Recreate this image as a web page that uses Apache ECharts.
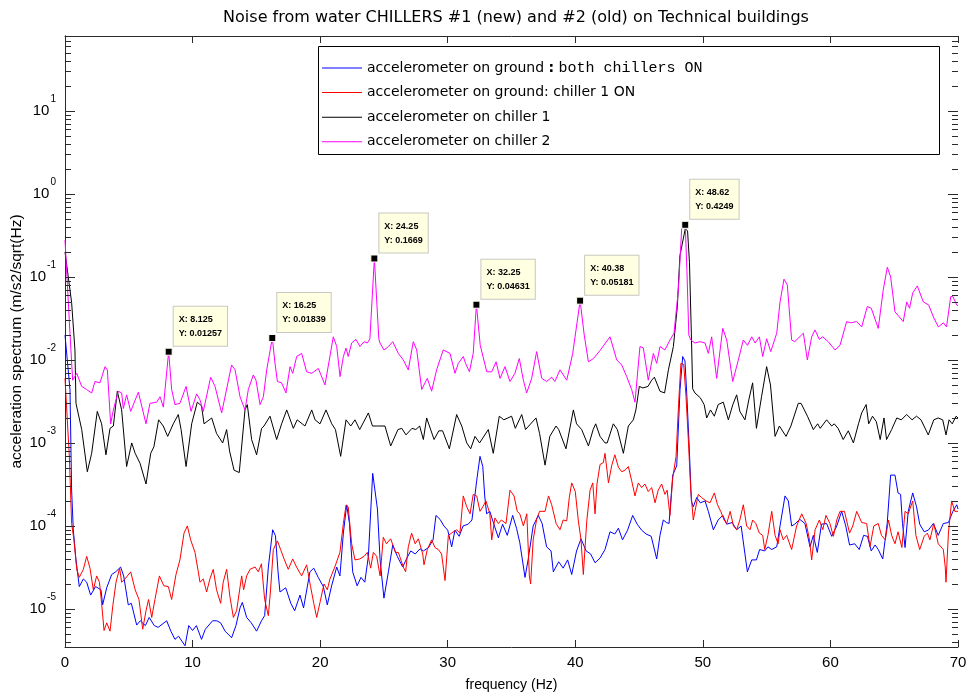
<!DOCTYPE html>
<html>
<head>
<meta charset="utf-8">
<title>Noise from water chillers</title>
<script src="https://cdn.jsdelivr.net/npm/echarts@6/dist/echarts.min.js"></script>
<style>
  html, body { margin: 0; padding: 0; background: #fff; }
  #chart { width: 968px; height: 698px; }
</style>
</head>
<body>
<div id="chart"></div>
<script>
// Acceleration spectra, [frequency (Hz), amplitude (m/s2/sqrt(Hz))]

const groundBothOn = [[0,0.02],[0.08,0.021],[0.39,0.0044],[0.52,0.00027],[0.65,0.00009],[0.86,0.000039],[1.12,0.0000186],[1.44,0.000023],[1.7,0.000021],[2.01,0.0000147],[2.4,0.0000186],[2.82,0.000017],[2.95,0.0000112],[3.27,0.000018],[3.66,0.000026],[3.97,0.000028],[4.36,0.000032],[4.6,0.000025],[4.96,0.0000112],[5.2,0.0000117],[5.62,0.0000064],[5.9,0.0000072],[6.3,0.0000063],[6.6,0.0000079],[7.0,0.0000063],[7.3,0.000006],[7.97,0.0000072],[8.3,0.0000054],[8.62,0.0000043],[8.9,0.0000047],[9.41,0.0000036],[9.7,0.0000063],[10.0,0.0000055],[10.3,0.0000063],[10.7,0.0000043],[11.0,0.0000057],[11.57,0.0000072],[11.9,0.0000072],[12.2,0.0000068],[12.55,0.0000054],[13.06,0.0000045],[13.4,0.0000063],[13.72,0.0000103],[13.9,0.000012],[14.24,0.0000079],[14.6,0.0000068],[15.02,0.0000054],[15.4,0.0000072],[15.65,0.0000083],[15.94,0.000032],[16.28,0.00009],[16.5,0.000076],[16.7,0.000028],[16.85,0.000016],[17.3,0.000018],[17.7,0.0000117],[18.0,0.0000095],[18.42,0.0000147],[18.7,0.0000103],[19.2,0.000028],[19.5,0.000031],[19.85,0.000024],[20.25,0.0000186],[20.56,0.0000112],[20.9,0.000019],[21.3,0.000032],[21.55,0.000025],[21.82,0.000082],[22.08,0.000179],[22.3,0.000107],[22.55,0.000028],[22.9,0.000019],[23.2,0.000024],[23.5,0.000021],[23.78,0.000043],[24.12,0.00043],[24.27,0.00045],[24.49,0.00016],[24.7,0.000039],[25.0,0.0000135],[25.35,0.000028],[25.69,0.000059],[26.05,0.000043],[26.47,0.000032],[26.8,0.000041],[27.1,0.00005],[27.45,0.000046],[27.83,0.000053],[28.1,0.00005],[28.5,0.000055],[28.85,0.000068],[29.08,0.000134],[29.4,0.00012],[29.7,0.0001],[30.0,0.000089],[30.31,0.000056],[30.57,0.000089],[30.9,0.000075],[31.2,0.0001],[31.6,0.000105],[31.9,0.000118],[32.27,0.00035],[32.53,0.00069],[32.75,0.00052],[32.9,0.00023],[33.05,0.00014],[33.3,0.00015],[33.6,0.000107],[33.97,0.000072],[34.3,0.000105],[34.67,0.000077],[35.09,0.000134],[35.4,0.000093],[35.65,0.000063],[36.06,0.000024],[36.3,0.000039],[36.7,0.0001],[37.1,0.000134],[37.4,0.000107],[37.75,0.000056],[38.1,0.00005],[38.28,0.000028],[38.7,0.000037],[39.05,0.000031],[39.4,0.000039],[39.72,0.000026],[40.1,0.00005],[40.45,0.00007],[40.85,0.00005],[41.2,0.000046],[41.55,0.000036],[41.94,0.000041],[42.33,0.000052],[42.72,0.000085],[43.1,0.00008],[43.38,0.000094],[43.7,0.000068],[44.1,0.000089],[44.5,0.000134],[44.85,0.000105],[45.2,0.000089],[45.55,0.00008],[45.95,0.000075],[46.38,0.00004],[46.64,0.000077],[46.9,0.000118],[47.15,0.00011],[47.35,0.000107],[47.64,0.00041],[47.95,0.00053],[48.21,0.0044],[48.42,0.011],[48.6,0.0097],[48.75,0.0036],[48.94,0.00083],[49.1,0.0002],[49.25,0.00017],[49.52,0.00022],[49.8,0.00019],[50.17,0.0002],[50.43,0.00015],[50.82,0.00009],[51.2,0.000118],[51.56,0.000134],[51.87,0.000105],[52.3,0.00011],[52.65,0.00009],[53.0,0.0001],[53.49,0.000028],[53.83,0.000039],[54.2,0.000039],[54.45,0.000052],[54.85,0.00005],[55.1,0.000056],[55.4,0.000052],[55.79,0.000056],[56.05,0.0001],[56.44,0.00023],[56.7,0.0002],[56.96,0.0001],[57.2,0.000105],[57.6,0.00012],[58.0,0.000107],[58.4,0.000056],[58.66,0.000077],[58.97,0.000048],[59.3,0.000105],[59.7,0.000107],[60.1,0.000075],[60.5,0.0001],[60.88,0.00015],[61.2,0.0001],[61.5,0.000059],[61.9,0.000061],[62.26,0.000052],[62.6,0.000077],[62.9,0.000075],[63.2,0.00005],[63.5,0.000059],[63.75,0.000052],[64.1,0.00004],[64.45,0.000107],[64.72,0.00041],[65.06,0.00041],[65.3,0.00025],[65.5,0.00024],[65.65,0.000107],[65.85,0.000055],[66.1,0.00015],[66.45,0.00025],[66.75,0.00017],[67.0,0.000105],[67.35,0.000085],[67.67,0.000089],[68.07,0.000107],[68.45,0.000077],[68.85,0.000107],[69.25,0.00011],[69.6,0.00015],[69.9,0.00018],[70,0.00016]];

const groundChiller1On = [[0,0.006],[0.08,0.0057],[0.34,0.00069],[0.52,0.000107],[0.7,0.000068],[0.92,0.00003],[1.12,0.000024],[1.44,0.00003],[1.7,0.000043],[1.96,0.000031],[2.22,0.000017],[2.48,0.000025],[2.7,0.000021],[2.87,0.0000117],[3.06,0.0000055],[3.27,0.0000068],[3.53,0.0000054],[3.75,0.000011],[4.0,0.000021],[4.28,0.000031],[4.44,0.000021],[4.7,0.000023],[5.15,0.000028],[5.5,0.000017],[5.8,0.000013],[6.09,0.0000057],[6.35,0.0000095],[6.55,0.000013],[6.8,0.0000079],[7.05,0.000013],[7.4,0.000025],[7.75,0.000019],[8.1,0.0000186],[8.36,0.000013],[8.7,0.000026],[9.01,0.000039],[9.33,0.000082],[9.59,0.0001],[9.85,0.000068],[10.19,0.000048],[10.45,0.000028],[10.58,0.000021],[10.84,0.000023],[11.1,0.000016],[11.36,0.000023],[11.62,0.00003],[11.88,0.000017],[12.2,0.0000117],[12.4,0.000021],[12.67,0.00003],[12.93,0.000014],[13.2,0.0000079],[13.45,0.0000095],[13.85,0.000025],[14.0,0.000017],[14.24,0.000025],[14.5,0.00003],[14.9,0.000032],[15.15,0.000028],[15.4,0.000035],[15.65,0.000013],[15.94,0.0000083],[16.1,0.000016],[16.33,0.000052],[16.65,0.000066],[16.9,0.000052],[17.2,0.000039],[17.5,0.00003],[17.85,0.00004],[18.15,0.000032],[18.55,0.000025],[18.94,0.000034],[19.25,0.0000186],[19.5,0.0000117],[19.73,0.0000079],[19.99,0.000012],[20.3,0.00002],[20.56,0.000017],[20.77,0.000023],[21.15,0.000032],[21.55,0.000048],[21.82,0.000107],[22.03,0.000179],[22.2,0.00017],[22.47,0.000061],[22.73,0.000039],[23.1,0.00004],[23.44,0.000043],[23.7,0.000048],[23.96,0.000031],[24.17,0.000048],[24.43,0.000043],[24.7,0.000025],[24.95,0.000073],[25.2,0.000061],[25.53,0.00007],[25.9,0.000048],[26.13,0.000048],[26.52,0.000032],[26.7,0.000028],[26.91,0.000056],[27.17,0.000082],[27.45,0.000061],[27.7,0.00007],[28.04,0.000046],[28.14,0.000034],[28.4,0.000052],[28.74,0.000068],[29.0,0.000055],[29.26,0.000052],[29.52,0.000046],[29.79,0.000022],[30.05,0.000077],[30.3,0.000082],[30.7,0.00009],[30.96,0.000082],[31.22,0.00023],[31.49,0.00017],[31.75,0.00014],[32.0,0.00024],[32.27,0.00023],[32.53,0.00015],[32.75,0.00017],[33.0,0.0002],[33.3,0.00014],[33.45,0.000068],[33.7,0.000125],[33.97,0.000107],[34.2,0.000118],[34.57,0.000107],[34.88,0.00027],[35.2,0.00023],[35.45,0.00015],[35.65,0.00014],[35.93,0.0001],[36.2,0.00014],[36.4,0.000025],[36.5,0.00002],[36.7,0.000068],[36.97,0.00012],[37.2,0.00015],[37.63,0.00015],[37.9,0.00023],[38.15,0.00018],[38.5,0.000107],[38.8,0.00009],[39.05,0.000118],[39.33,0.000115],[39.53,0.00022],[39.72,0.00033],[40.0,0.00026],[40.24,0.000115],[40.45,0.000068],[40.63,0.000026],[40.9,0.000115],[41.16,0.00027],[41.37,0.00033],[41.55,0.00014],[41.7,0.00032],[41.94,0.00055],[42.2,0.00058],[42.33,0.00075],[42.6,0.00033],[42.85,0.00053],[43.1,0.00072],[43.38,0.00051],[43.64,0.00045],[43.9,0.00047],[44.16,0.00052],[44.42,0.00035],[44.68,0.00023],[44.94,0.00033],[45.2,0.00029],[45.46,0.00032],[45.72,0.00026],[45.99,0.00029],[46.25,0.00019],[46.5,0.00027],[46.77,0.00032],[47.03,0.00024],[47.2,0.00027],[47.42,0.000134],[47.64,0.00038],[47.9,0.00069],[48.1,0.003],[48.28,0.0091],[48.5,0.0088],[48.68,0.0036],[48.86,0.0011],[49.05,0.00027],[49.25,0.000118],[49.38,0.00015],[49.64,0.00024],[49.9,0.00022],[50.25,0.0002],[50.56,0.00019],[50.9,0.00025],[51.15,0.00018],[51.4,0.00015],[51.66,0.000118],[51.87,0.000107],[52.14,0.00015],[52.4,0.0001],[52.65,0.00009],[52.9,0.000118],[53.17,0.00018],[53.43,0.0001],[53.7,0.00009],[53.9,0.000118],[54.15,0.000107],[54.43,0.000082],[54.69,0.000077],[54.85,0.000052],[55.1,0.000077],[55.4,0.00015],[55.66,0.000077],[55.9,0.000061],[56.05,0.00009],[56.3,0.000068],[56.57,0.000077],[56.96,0.000052],[57.35,0.0001],[57.75,0.00014],[58.1,0.000107],[58.36,0.000068],[58.53,0.000039],[58.8,0.00009],[59.13,0.000118],[59.4,0.00009],[59.65,0.000134],[59.96,0.000107],[60.23,0.000075],[60.5,0.000118],[60.75,0.00015],[61.1,0.00015],[61.5,0.000082],[61.75,0.0001],[62.06,0.00015],[62.45,0.00011],[62.84,0.000107],[63.1,0.000056],[63.4,0.0001],[63.75,0.000107],[64.0,0.000077],[64.3,0.000068],[64.55,0.000118],[64.8,0.000077],[65.06,0.000061],[65.3,0.000085],[65.6,0.000055],[65.85,0.00015],[66.1,0.00014],[66.45,0.0002],[66.7,0.000077],[67.0,0.000052],[67.35,0.000075],[67.6,0.000082],[67.8,0.000068],[68.1,0.000107],[68.45,0.000061],[68.85,0.000052],[69.0,0.000032],[69.06,0.000021],[69.25,0.000082],[69.5,0.0002],[69.75,0.00015],[70,0.00015]];

const onChiller1 = [[0,0.2],[0.52,0.049],[0.78,0.0132],[0.86,0.003],[1.31,0.00145],[1.75,0.00045],[2.09,0.00075],[2.53,0.0024],[2.87,0.0017],[3.21,0.00072],[3.53,0.0015],[3.79,0.0016],[4.1,0.0042],[4.44,0.0025],[4.83,0.00052],[5.23,0.001],[5.5,0.00075],[5.88,0.00057],[6.35,0.00032],[6.72,0.00075],[6.97,0.0009],[7.34,0.0019],[7.7,0.0016],[8.05,0.0012],[8.49,0.0017],[8.88,0.0022],[9.1,0.00145],[9.49,0.00052],[9.93,0.0017],[10.37,0.0031],[10.7,0.0028],[10.9,0.0017],[11.5,0.002],[11.88,0.0013],[12.36,0.001],[12.67,0.00145],[12.9,0.0008],[13.25,0.00047],[13.66,0.00044],[14.11,0.0025],[14.29,0.0029],[14.63,0.0011],[15.02,0.00072],[15.41,0.0015],[15.6,0.0016],[16.07,0.0021],[16.59,0.0011],[16.98,0.0017],[17.38,0.0025],[17.9,0.0015],[18.2,0.0019],[18.81,0.0016],[19.34,0.0025],[19.6,0.0019],[19.99,0.0017],[20.46,0.0025],[20.91,0.0017],[21.2,0.00145],[21.61,0.00069],[22.03,0.0019],[22.4,0.0016],[22.73,0.0019],[23.1,0.00145],[23.78,0.0023],[24.1,0.0016],[24.5,0.0016],[25.08,0.0016],[25.53,0.00092],[26.1,0.00145],[26.4,0.0015],[26.73,0.00125],[27.2,0.0015],[27.5,0.00145],[27.8,0.0016],[28.09,0.0011],[28.35,0.002],[28.93,0.0011],[29.3,0.0014],[29.6,0.0014],[30.13,0.00085],[30.7,0.0022],[31.1,0.0016],[31.49,0.001],[31.8,0.00085],[32.14,0.0012],[32.5,0.001],[33.18,0.00145],[33.57,0.00075],[34.04,0.0021],[34.4,0.0019],[35.01,0.0021],[35.3,0.0015],[35.8,0.0022],[36.1,0.00145],[36.92,0.002],[37.2,0.0013],[37.63,0.00054],[38.0,0.0012],[38.49,0.0016],[38.7,0.00145],[39.27,0.00085],[39.85,0.0025],[40.1,0.0017],[40.5,0.00145],[41.03,0.00092],[41.4,0.00145],[41.6,0.0017],[41.94,0.0012],[42.33,0.001],[42.5,0.001],[42.98,0.0017],[43.3,0.00145],[43.77,0.00075],[44.16,0.0016],[44.55,0.0019],[44.75,0.0025],[45.02,0.0048],[45.3,0.0046],[45.7,0.0048],[45.99,0.0057],[46.2,0.0062],[46.64,0.0042],[47.0,0.004],[47.3,0.0076],[47.69,0.0145],[48.0,0.044],[48.2,0.18],[48.62,0.38],[48.8,0.36],[48.95,0.15],[49.1,0.02],[49.2,0.0045],[49.38,0.004],[49.8,0.0035],[50.1,0.0029],[50.3,0.002],[50.6,0.0025],[50.9,0.0021],[51.2,0.0029],[51.6,0.0031],[52.0,0.0019],[52.35,0.0029],[52.65,0.0038],[52.9,0.0024],[53.3,0.0019],[53.6,0.0033],[53.9,0.0053],[54.2,0.0015],[54.6,0.0036],[55.0,0.0083],[55.3,0.005],[55.66,0.0012],[56.0,0.0016],[56.52,0.0012],[56.9,0.0016],[57.48,0.003],[57.7,0.003],[58.2,0.0021],[58.66,0.00145],[59.0,0.0017],[59.2,0.0015],[59.7,0.0019],[60.1,0.0016],[60.3,0.0017],[60.6,0.0015],[61.0,0.0011],[61.4,0.0014],[61.8,0.001],[62.2,0.0017],[62.45,0.0023],[62.8,0.0029],[63.0,0.0017],[63.3,0.0021],[63.6,0.0018],[63.9,0.0011],[64.2,0.002],[64.4,0.0011],[64.8,0.00145],[65.2,0.002],[65.55,0.0019],[65.98,0.0022],[66.4,0.0019],[66.75,0.0021],[67.1,0.0019],[67.67,0.00125],[68.1,0.0019],[68.45,0.002],[68.8,0.0019],[69.06,0.00125],[69.3,0.0019],[69.55,0.0017],[69.85,0.0021],[70,0.002]];

const onChiller2 = [[0,0.28],[0.39,0.021],[0.6,0.0057],[0.92,0.0069],[1.31,0.0048],[1.7,0.0044],[2.09,0.004],[2.35,0.0055],[2.74,0.0053],[3.14,0.0083],[3.32,0.0076],[3.58,0.0017],[3.79,0.0025],[4.18,0.0042],[4.44,0.004],[4.57,0.0026],[4.83,0.0038],[5.15,0.0024],[5.75,0.0041],[6.35,0.0017],[6.66,0.003],[7.19,0.0031],[7.45,0.0036],[7.71,0.0027],[8.125,0.01257],[8.36,0.0044],[8.62,0.0029],[9.01,0.003],[9.49,0.0048],[9.88,0.0024],[10.32,0.0039],[10.58,0.0033],[10.84,0.0024],[11.42,0.0062],[11.76,0.0048],[12.28,0.0023],[13.06,0.0087],[13.33,0.0076],[13.72,0.0036],[14.11,0.0025],[14.37,0.0044],[14.76,0.0066],[14.97,0.0057],[15.29,0.0029],[15.55,0.0036],[15.81,0.0076],[16.25,0.01839],[16.46,0.0092],[16.65,0.0055],[16.98,0.0053],[17.32,0.004],[17.64,0.0083],[17.85,0.0069],[18.16,0.011],[18.55,0.012],[18.94,0.0072],[19.34,0.0069],[19.86,0.0079],[20.38,0.005],[20.5,0.005],[21.03,0.019],[21.3,0.0145],[21.56,0.0063],[21.82,0.011],[22.03,0.0139],[22.2,0.011],[22.47,0.016],[22.81,0.0177],[23.12,0.0145],[23.44,0.0166],[23.7,0.016],[23.9,0.018],[24.25,0.1669],[24.6,0.018],[24.69,0.016],[25.0,0.0132],[25.35,0.0145],[25.69,0.0166],[26.13,0.012],[26.52,0.01],[26.91,0.0076],[27.3,0.0166],[27.57,0.0132],[27.96,0.0044],[28.22,0.0053],[28.4,0.006],[28.74,0.0042],[29.13,0.0076],[29.65,0.0132],[30.18,0.012],[30.57,0.0069],[30.83,0.0091],[31.22,0.011],[31.4,0.0091],[31.7,0.0072],[32.0,0.012],[32.25,0.04631],[32.55,0.015],[33.06,0.0072],[33.45,0.0072],[33.79,0.0095],[34.1,0.006],[34.49,0.0083],[34.88,0.0055],[35.27,0.0069],[35.61,0.0104],[35.93,0.0057],[36.19,0.004],[36.58,0.006],[36.97,0.0126],[37.37,0.006],[37.76,0.0055],[38.15,0.0062],[38.4,0.0055],[38.8,0.0076],[39.33,0.0057],[39.8,0.012],[40.38,0.05181],[40.7,0.02],[41.03,0.0095],[41.42,0.0104],[41.94,0.013],[42.72,0.019],[43.25,0.01],[43.64,0.0087],[44.03,0.0063],[44.42,0.0044],[44.68,0.0031],[45.07,0.0145],[45.33,0.014],[45.72,0.0057],[46.12,0.012],[46.38,0.0091],[46.64,0.0145],[47.03,0.0132],[47.42,0.0174],[47.74,0.021],[48.08,0.07],[48.34,0.38],[48.62,0.4249],[48.75,0.12],[48.9,0.02],[49.05,0.0174],[49.38,0.016],[49.78,0.0166],[50.17,0.016],[50.43,0.012],[50.69,0.019],[51.08,0.006],[51.56,0.024],[51.87,0.0174],[52.34,0.0055],[52.78,0.01],[53.17,0.0174],[53.5,0.015],[53.83,0.019],[54.1,0.016],[54.43,0.019],[54.69,0.011],[55.0,0.018],[55.32,0.0126],[55.79,0.021],[56.05,0.05],[56.36,0.094],[56.62,0.08],[56.96,0.0174],[57.2,0.0166],[57.88,0.021],[58.19,0.01],[58.53,0.019],[58.79,0.023],[59.13,0.0177],[59.4,0.019],[59.83,0.0166],[60.36,0.0132],[60.75,0.015],[61.27,0.029],[61.6,0.028],[62.06,0.029],[62.45,0.025],[62.89,0.044],[63.2,0.042],[63.75,0.024],[64.14,0.07],[64.46,0.131],[64.72,0.1],[65.06,0.038],[65.4,0.033],[65.71,0.029],[65.98,0.05],[66.2,0.042],[66.45,0.064],[66.81,0.078],[67.28,0.05],[67.7,0.046],[68.07,0.033],[68.46,0.025],[68.85,0.028],[69.1,0.025],[69.43,0.058],[69.6,0.058],[69.9,0.046],[70,0.045]];

// Data tips on the chiller 2 harmonics
const tipFreq = [8.125, 16.25, 24.25, 32.25, 40.38, 48.62];
const tipValue = [0.01257, 0.01839, 0.1669, 0.04631, 0.05181, 0.4249];

const seriesNames = [
  'accelerometer on ground : both chillers ON',
  'accelerometer on ground: chiller 1 ON',
  'accelerometer on chiller 1',
  'accelerometer on chiller 2'
];
const seriesColors = ['#0000ff', '#ff0000', '#000000', '#ff00ff'];
const seriesData = [groundBothOn, groundChiller1On, onChiller1, onChiller2];

const xMin = 0, xMax = 70, xStep = 10;
const yMin = 3.48e-6, yMax = 80;

const FONT = 'Liberation Sans, Arial, sans-serif';
const WIDE = 'DejaVu Sans, sans-serif';
const FRAME = '#2a2a2a';

// log ticks inside the plot box: decades (long) and 2..9 per decade (short)
const yTicks = [];
for (let e = -6; e <= 1; e++) {
  for (let m = 1; m <= 9; m++) {
    const v = m * Math.pow(10, e);
    if (v > yMin && v < yMax) yTicks.push([xMin, v, m === 1 ? 10 : 6]);
  }
}

function powLabel(v) {
  const e = Math.log10(v);
  const r = Math.round(e);
  if (Math.abs(e - r) > 1e-6) return '';
  return '{b|10}{s|' + r + '}';
}

const chart = echarts.init(document.getElementById('chart'), null, { renderer: 'canvas' });

const lineSeries = seriesData.map((d, i) => ({
  type: 'line',
  name: seriesNames[i],
  data: d,
  xAxisIndex: 0,
  yAxisIndex: 0,
  symbol: 'none',
  showSymbol: false,
  legendIcon: 'rect',
  animation: false,
  lineStyle: { color: seriesColors[i], width: 1 },
  itemStyle: { color: seriesColors[i] },
  emphasis: { disabled: true },
  z: 2 + i * 0.1
}));

const option = {
  animation: false,
  backgroundColor: '#ffffff',
  title: {
    text: 'Noise from water CHILLERS #1 (new) and #2 (old) on Technical buildings',
    left: 511,
    textAlign: 'center',
    top: 5,
    textStyle: { fontFamily: WIDE, fontSize: 16, fontWeight: 'normal', color: '#000' }
  },
  grid: { left: 65, right: 10, top: 36, bottom: 51, containLabel: false, outerBoundsMode: 'none' },
  graphic: [{
    type: 'rect',
    z: 20,
    shape: { x: 318.5, y: 46.5, width: 621, height: 108 },
    style: { fill: '#ffffff', stroke: '#000', lineWidth: 1 }
  }],
  legend: {
    z: 30,
    left: 322,
    top: 60,
    orient: 'vertical',
    padding: 0,
    itemGap: 8.6,
    itemWidth: 40,
    itemHeight: 1,
    icon: 'rect',
    data: seriesNames,
    selectedMode: false,
    textStyle: {
      fontFamily: WIDE, fontSize: 14, color: '#000', lineHeight: 16,
      rich: {
        colon: { fontFamily: WIDE, fontSize: 14, fontWeight: 'bold', color: '#000', lineHeight: 16 },
        mono: { fontFamily: 'Liberation Mono, monospace', fontSize: 15, color: '#000', lineHeight: 16 }
      }
    },
    formatter: name => {
      const k = name.indexOf(' : ');
      if (k < 0) return name;
      return name.slice(0, k) + ' {colon|:} {mono|' + name.slice(k + 3) + '}';
    }
  },
  xAxis: [{
    type: 'value', min: xMin, max: xMax, interval: xStep,
    position: 'bottom',
    name: 'frequency (Hz)', nameLocation: 'middle', nameGap: 31, nameMoveOverlap: false,
    nameTextStyle: { fontFamily: FONT, fontSize: 14, color: '#000' },
    axisLine: { show: true, lineStyle: { color: FRAME, width: 1 } },
    axisTick: { show: true, inside: true, length: 7, lineStyle: { color: FRAME } },
    axisLabel: { fontFamily: FONT, fontSize: 15, color: '#000', margin: 8 },
    splitLine: { show: false }
  }, {
    type: 'value', min: xMin, max: xMax, interval: xStep,
    position: 'top',
    axisLine: { show: true, lineStyle: { color: FRAME, width: 1 } },
    axisTick: { show: true, inside: true, length: 7, lineStyle: { color: FRAME } },
    axisLabel: { show: false },
    splitLine: { show: false }
  }],
  yAxis: [{
    type: 'log', logBase: 10, min: yMin, max: yMax,
    position: 'left',
    name: 'acceleration spectrum (m/s2/sqrt(Hz)', nameLocation: 'middle', nameGap: 40, nameMoveOverlap: false,
    nameTextStyle: { fontFamily: FONT, fontSize: 15.5, color: '#000' },
    axisLine: { show: true, lineStyle: { color: FRAME, width: 1 } },
    axisTick: { show: false },
    axisLabel: {
      margin: 9,
      showMinLabel: false, showMaxLabel: false,
      formatter: powLabel,
      rich: {
        b: { fontFamily: FONT, fontSize: 15, color: '#000', lineHeight: 15, verticalAlign: 'middle' },
        s: { fontFamily: FONT, fontSize: 10, color: '#000', lineHeight: 10, verticalAlign: 'middle', padding: [0, 0, 24, 1] }
      }
    },
    splitLine: { show: false },
    minorTick: { show: false }
  }, {
    type: 'log', logBase: 10, min: yMin, max: yMax,
    position: 'right',
    axisLine: { show: true, lineStyle: { color: FRAME, width: 1 } },
    axisTick: { show: false },
    axisLabel: { show: false },
    splitLine: { show: false }
  }],
  series: lineSeries.concat([
    {
      type: 'custom',
      name: 'y ticks',
      coordinateSystem: 'cartesian2d',
      xAxisIndex: 0, yAxisIndex: 0,
      silent: true,
      z: 6,
      data: yTicks,
      encode: { x: 0, y: 1 },
      renderItem: (params, api) => {
        const v = api.value(1);
        const len = api.value(2);
        const l = api.coord([xMin, v]);
        const r = api.coord([xMax, v]);
        const y = Math.round(l[1]) + 0.5;
        return {
          type: 'group',
          children: [
            { type: 'line', shape: { x1: l[0], y1: y, x2: l[0] + len, y2: y }, style: { stroke: FRAME, lineWidth: 1 } },
            { type: 'line', shape: { x1: r[0] - len, y1: y, x2: r[0], y2: y }, style: { stroke: FRAME, lineWidth: 1 } }
          ]
        };
      }
    },
    {
      type: 'scatter',
      name: 'data tips',
      xAxisIndex: 0, yAxisIndex: 0,
      data: tipFreq.map((f, i) => [f, tipValue[i]]),
      symbol: 'rect',
      symbolSize: 7,
      z: 12,
      silent: true,
      itemStyle: { color: '#000', borderColor: '#fffff0', borderWidth: 1, opacity: 1 },
      label: {
        show: true,
        position: [9, -41],
        align: 'left',
        verticalAlign: 'top',
        formatter: p => 'X: ' + p.value[0] + '\nY: ' + p.value[1],
        fontFamily: FONT,
        fontSize: 9,
        fontWeight: 'bold',
        lineHeight: 14,
        color: '#000',
        backgroundColor: '#ffffe1',
        borderColor: '#c8c8c0',
        borderWidth: 1,
        padding: [6, 5, 5, 5]
      }
    }
  ])
};

chart.setOption(option);
</script>
</body>
</html>
